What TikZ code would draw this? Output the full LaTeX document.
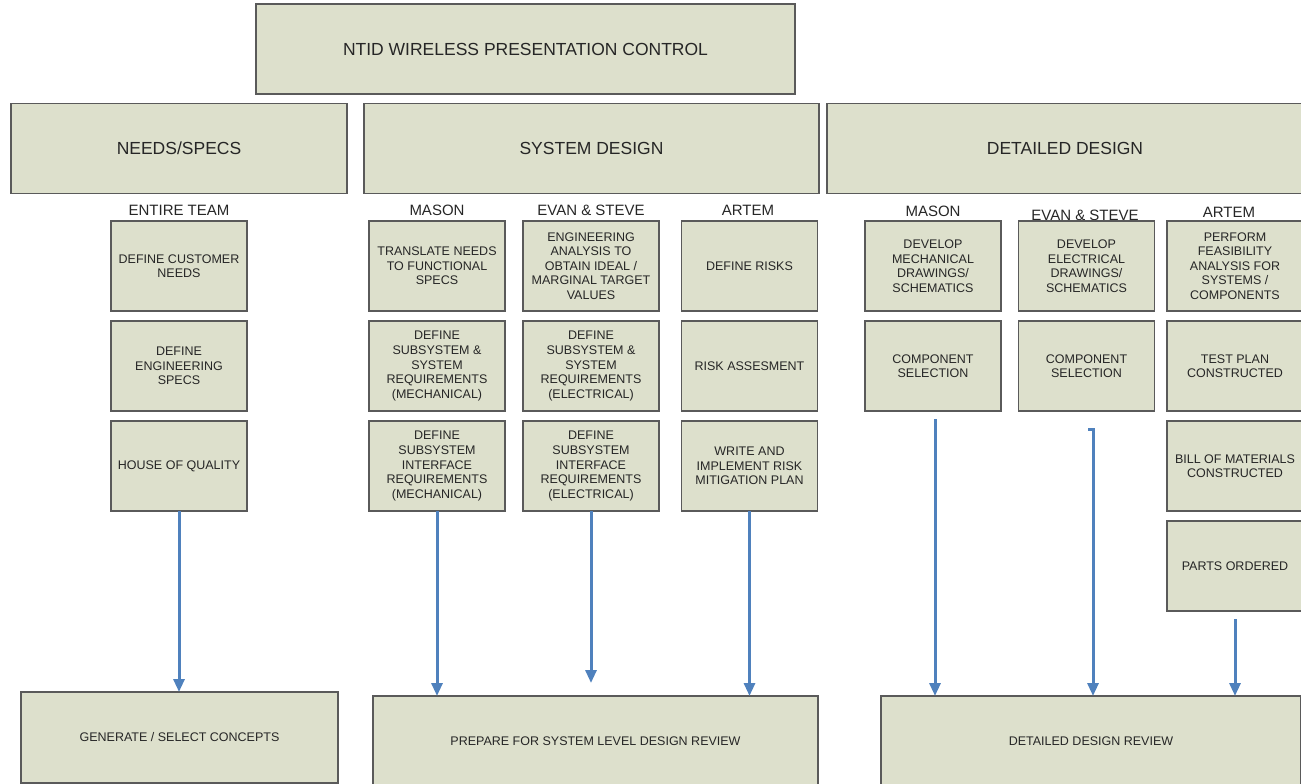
\documentclass[tikz,border=0pt]{standalone}
\usepackage{fontspec}
\setmainfont{Liberation Sans}
\usetikzlibrary{arrows.meta}
\definecolor{boxfill}{RGB}{221,224,204}
\definecolor{boxline}{RGB}{90,90,90}
\definecolor{flowblue}{RGB}{79,129,189}

\begin{document}
\begin{tikzpicture}[x=1pt,y=-1pt,
  box/.style={draw=boxline,fill=boxfill,line width=1.5pt,inner sep=0pt,outer sep=0pt,align=center,text=black!85},
  head/.style={box,minimum height=90pt,font=\fontsize{17.5}{21}\selectfont},
  task/.style={box,minimum width=136pt,minimum height=90pt,font=\fontsize{12.5}{14.6}\selectfont},
  review/.style={box,minimum height=90pt,font=\fontsize{12.5}{14.6}\selectfont},
  who/.style={text=black!85,font=\fontsize{15}{18}\selectfont},
  flow/.style={draw=flowblue,line width=3pt,-{Triangle[width=11pt,length=13pt]}}]
\useasboundingbox (0,0) rectangle (1301,784);

% phases
\node[head,minimum width=539pt] (title) at (525.5,49) {NTID WIRELESS PRESENTATION CONTROL};
\node[head,minimum width=336pt] (needs) at (179,148.5) {NEEDS/SPECS};
\node[head,minimum width=455pt] (sysd) at (591.5,148.5) {SYSTEM DESIGN};
\node[head,minimum width=476pt] (detd) at (1065,148.5) {DETAILED DESIGN};

% who does what
\foreach \x/\y/\name/\who in {179/210.5/teamlab/ENTIRE TEAM, 437/210.5/smlab/MASON,
  591/210.5/selab/EVAN \& STEVE, 748/210.5/salab/ARTEM, 933/211.5/dmlab/MASON,
  1085/215/delab/EVAN \& STEVE, 1229/212/dalab/ARTEM}
  \node[who] (\name) at (\x,\y) {\who};

% needs/specs
\node[task] (team1) at (179,266) {DEFINE CUSTOMER\\NEEDS};
\node[task] (team2) at (179,366) {DEFINE\\ENGINEERING\\SPECS};
\node[task] (team3) at (179,466) {HOUSE OF QUALITY};

% system design
\node[task] (sm1) at (437,266) {TRANSLATE NEEDS\\TO FUNCTIONAL\\SPECS};
\node[task] (sm2) at (437,366) {DEFINE\\SUBSYSTEM \&\\SYSTEM\\REQUIREMENTS\\(MECHANICAL)};
\node[task] (sm3) at (437,466) {DEFINE\\SUBSYSTEM\\INTERFACE\\REQUIREMENTS\\(MECHANICAL)};
\node[task] (se1) at (591,266) {ENGINEERING\\ANALYSIS TO\\OBTAIN IDEAL /\\MARGINAL TARGET\\VALUES};
\node[task] (se2) at (591,366) {DEFINE\\SUBSYSTEM \&\\SYSTEM\\REQUIREMENTS\\(ELECTRICAL)};
\node[task] (se3) at (591,466) {DEFINE\\SUBSYSTEM\\INTERFACE\\REQUIREMENTS\\(ELECTRICAL)};
\node[task] (sa1) at (749.5,266) {DEFINE RISKS};
\node[task] (sa2) at (749.5,366) {RISK ASSESMENT};
\node[task] (sa3) at (749.5,466) {WRITE AND\\IMPLEMENT RISK\\MITIGATION PLAN};

% detailed design
\node[task] (dm1) at (933,266) {DEVELOP\\MECHANICAL\\DRAWINGS/\\SCHEMATICS};
\node[task] (dm2) at (933,366) {COMPONENT\\SELECTION};
\node[task] (de1) at (1086.5,266) {DEVELOP\\ELECTRICAL\\DRAWINGS/\\SCHEMATICS};
\node[task] (de2) at (1086.5,366) {COMPONENT\\SELECTION};
\node[task] (da1) at (1235,266) {PERFORM\\FEASIBILITY\\ANALYSIS FOR\\SYSTEMS /\\COMPONENTS};
\node[task] (da2) at (1235,366) {TEST PLAN\\CONSTRUCTED};
\node[task] (da3) at (1235,466) {BILL OF MATERIALS\\CONSTRUCTED};
\node[task] (da4) at (1235,566) {PARTS ORDERED};

% reviews
\node[review,minimum width=317pt,minimum height=91pt] (gen) at (179.5,737.5) {GENERATE / SELECT CONCEPTS};
\node[review,minimum width=445pt] (prep) at (595.5,741) {PREPARE FOR SYSTEM LEVEL DESIGN REVIEW};
\node[review,minimum width=420pt] (ddr) at (1091,741) {DETAILED DESIGN REVIEW};

\draw[flow] (team3) -- (gen.north -| team3);
\draw[flow] (sm3) -- (prep.north -| sm3);
\draw[flow,shorten >=13pt] (se3) -- (prep.north -| se3);
\draw[flow] (sa3) -- (prep.north -| sa3);
\draw[flow] ([xshift=2pt,yshift=-8pt]dm2.south) coordinate (dmtail) -- (ddr.north -| dmtail);
\draw[flow] ([xshift=1.5pt,yshift=-18pt]de2.south) -- ++(5pt,0) coordinate (dehook) -- (ddr.north -| dehook);
\draw[flow,shorten <=8pt] (da4) -- (ddr.north -| da4);
\end{tikzpicture}
\end{document}
